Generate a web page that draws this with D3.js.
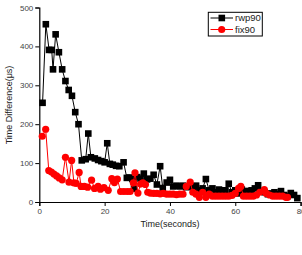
<!DOCTYPE html>
<html><head><meta charset="utf-8">
<script src="https://cdn.jsdelivr.net/npm/d3@7"></script>
<style>body{margin:0;background:#fff}svg{display:block}text{font-family:"Liberation Sans",Arial,sans-serif}</style>
</head><body><svg id="c" width="302" height="255"></svg>
<script>
const seriesNames = ["rwp90", "fix90"];
const xTicks = [0, 20, 40, 60, 80];
const yTicks = [0, 100, 200, 300, 400, 500];
const rwpT = [1,2,3,3.8,4.2,5,6,7,8,9,10,11,12,13,14.2,15,15.8,17,18,19,20,20.8,21.6,22.5,23.5,24.5,25.8,26.8,27.6,28.5,29,30,31,32,33,34,35,36,37,37.8,39,40,41,42,43,44,45,46,47,48,49,50,51,52,53,54,55,56,57,58,59,60,61,62,63,64,65,66,67,68,69,70,71,72,73,74,75,76,77,78,79];
const rwpV = [255,457,391,391,341,431,385,341,311,288,273,231,200,107,110,176,115,112,108,105,102,151,98,96,93,92,102,62,63,59,34,64,60,73,58,60,70,45,92,36,50,57,40,42,40,42,38,40,38,42,30,35,59,30,35,25,32,30,30,47,25,30,22,32,28,28,30,35,43,28,25,20,22,25,20,28,18,15,23,18,10];
const fixT = [0.9,1.95,2.9,3.7,4.5,5.3,6.1,7,8,9.1,9.9,10.6,11.3,12.2,12.8,13.8,14.8,16,16.9,18,18.7,19.8,21.1,22.2,23,23.9,24.9,25.9,26.9,27.8,28.8,29.3,30.2,31,31.7,32.5,33.2,34,35,36,37,38,39,40,41,42,43,44,45,46.2,47,48,49,50,51,52,53,54,55,56,57,58,59,60,61,61.7,62.5,63.5,64.5,65.5,66.5,67.5,68.9,69.5,70.5,71.5,72.5,73.5,74.5,75.5,76];
const fixV = [169,187,81,77,72,67,62,57,115,51,107,49,48,76,40,40,38,56,35,40,33,37,30,60,50,59,27,27,27,27,49,75,23,46,49,45,25,23,22,22,21,22,20,20,20,19,20,20,40,51,25,20,12,25,12,20,15,15,15,15,15,15,17,22,35,40,15,15,15,15,18,25,32,22,18,15,15,15,15,12,12];

const svg = d3.select("#c");
const x = d3.scaleLinear().domain([0, 80]).range([39.3, 300.6]);
const y = d3.scaleLinear().domain([0, 500]).range([202, 7.5]);

// minor ticks
const gx = svg.append("g").attr("transform", "translate(0,202)");
gx.call(d3.axisBottom(x).tickValues(d3.range(10, 80, 20)).tickSize(2).tickFormat(""));
gx.call(d3.axisBottom(x).tickValues(xTicks).tickSize(4).tickPadding(2).tickFormat(d3.format("d")));
gx.selectAll("path").attr("stroke", "#000").attr("stroke-width", 1.2);
gx.selectAll("line").attr("stroke", "#000");
gx.selectAll("text").attr("font-size", 8).attr("fill", "#444");

const gy = svg.append("g").attr("transform", "translate(39.3,0)");
gy.call(d3.axisLeft(y).tickValues(d3.range(50, 500, 100)).tickSize(2).tickFormat(""));
gy.call(d3.axisLeft(y).tickValues(yTicks).tickSize(4).tickPadding(2).tickFormat(d3.format("d")));
gy.selectAll("path").attr("stroke", "#000").attr("stroke-width", 1.2);
gy.selectAll("line").attr("stroke", "#000");
gy.selectAll("text").attr("font-size", 8).attr("fill", "#444");

const rwp = rwpT.map((t, i) => [t, rwpV[i]]);
const fix = fixT.map((t, i) => [t, fixV[i]]);
const line = d3.line().x(d => x(d[0])).y(d => y(d[1]));

svg.append("path").datum(rwp).attr("d", line).attr("fill", "none").attr("stroke", "#000").attr("stroke-width", 1);
svg.append("g").selectAll("rect").data(rwp).join("rect")
  .attr("x", d => x(d[0]) - 3.3).attr("y", d => y(d[1]) - 3.3).attr("width", 6.6).attr("height", 6.6).attr("fill", "#000");

svg.append("path").datum(fix).attr("d", line).attr("fill", "none").attr("stroke", "#f00").attr("stroke-width", 1);
svg.append("g").selectAll("circle").data(fix).join("circle")
  .attr("cx", d => x(d[0])).attr("cy", d => y(d[1])).attr("r", 3.6).attr("fill", "#f00");

// legend
const lg = svg.append("g");
lg.append("rect").attr("x", 208.3).attr("y", 12.3).attr("width", 54).attr("height", 23.7).attr("fill", "#fff").attr("stroke", "#000").attr("stroke-width", 1);
const colors = ["#000", "#f00"];
seriesNames.forEach((n, i) => {
  const cy = 18 + i * 11.5;
  lg.append("line").attr("x1", 210.5).attr("x2", 233).attr("y1", cy).attr("y2", cy).attr("stroke", colors[i]).attr("stroke-width", 1);
  if (i === 0) lg.append("rect").attr("x", 218.5).attr("y", cy - 3.3).attr("width", 6.6).attr("height", 6.6).attr("fill", "#000");
  else lg.append("circle").attr("cx", 221.7).attr("cy", cy).attr("r", 3.6).attr("fill", "#f00");
  lg.append("text").attr("x", 235).attr("y", cy + 3.3).attr("font-size", 9.5).attr("fill", "#222").text(n);
});

svg.append("text").attr("x", 170).attr("y", 227).attr("text-anchor", "middle").attr("font-size", 9).attr("fill", "#222").text("Time(seconds)");
svg.append("text").attr("transform", "translate(12,105) rotate(-90)").attr("text-anchor", "middle").attr("font-size", 9).attr("fill", "#222").text("Time Difference(μs)");
</script></body></html>
